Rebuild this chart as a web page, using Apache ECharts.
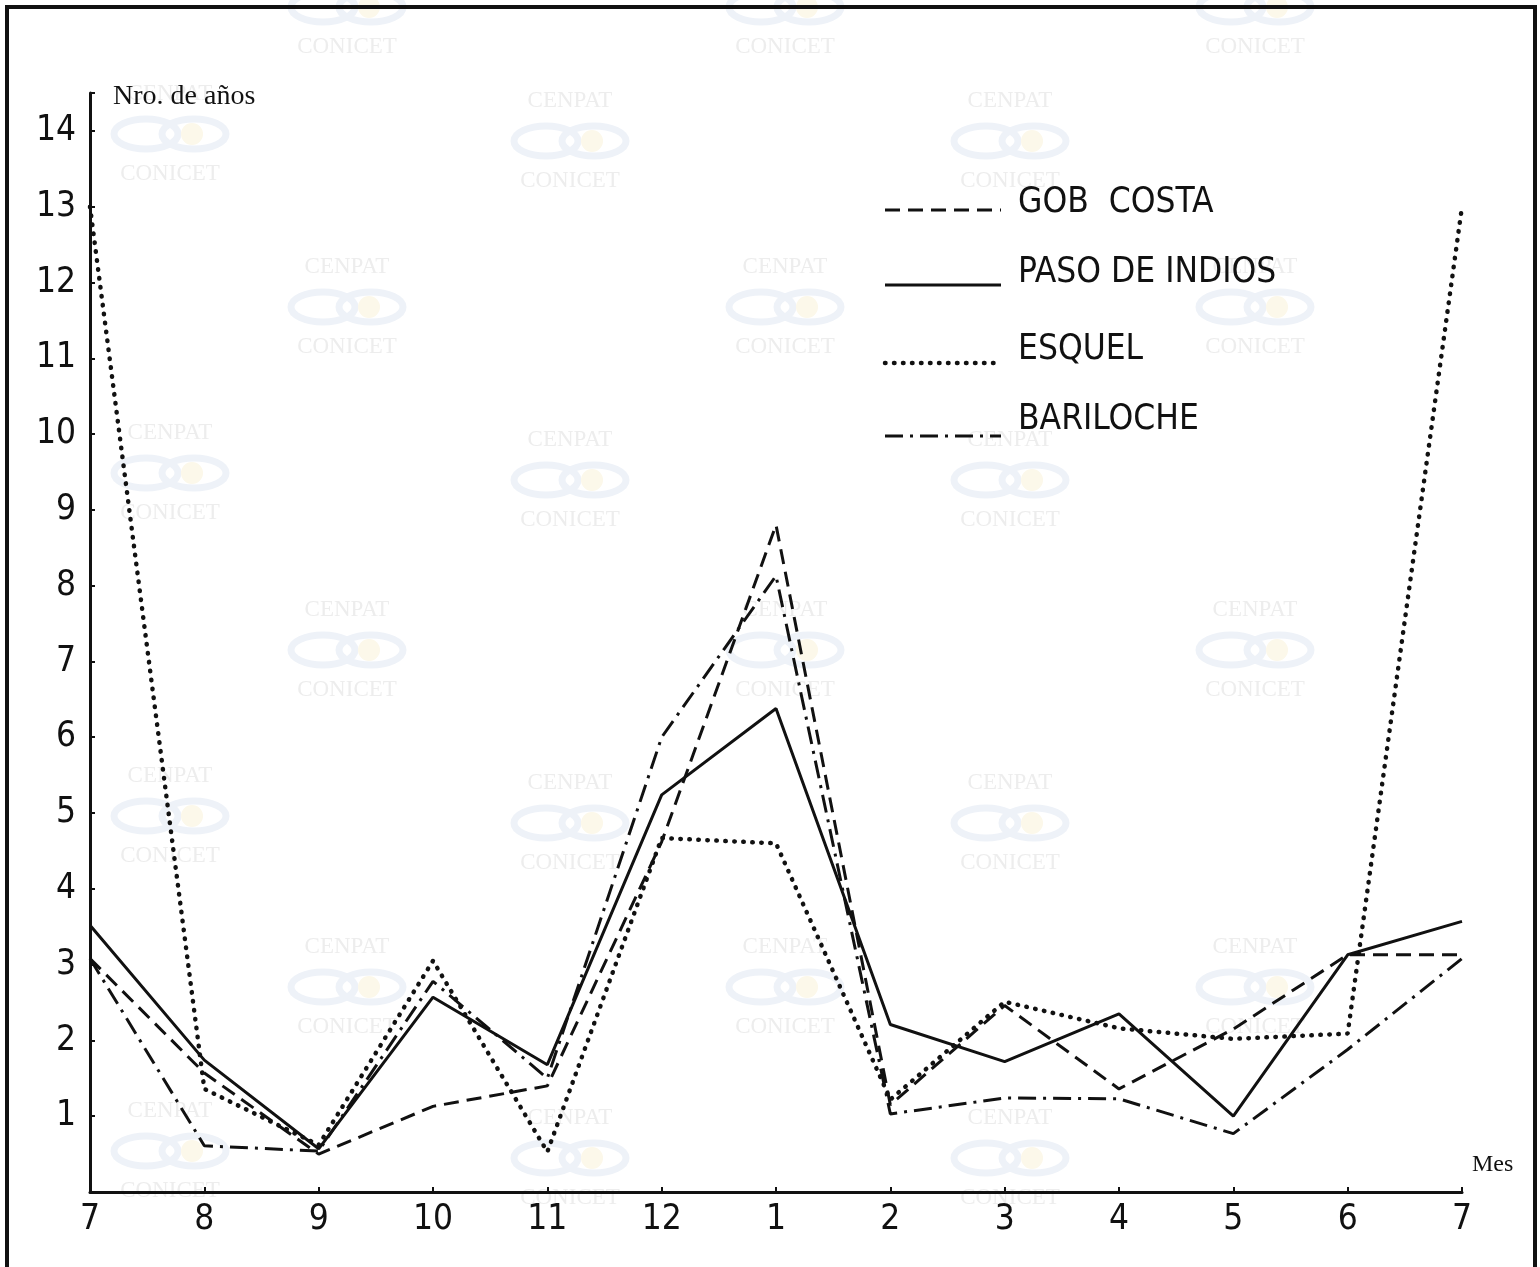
<!DOCTYPE html>
<html>
<head>
<meta charset="utf-8">
<script src="https://cdn.jsdelivr.net/npm/echarts@6/dist/echarts.min.js"></script>
<style>
html,body{margin:0;padding:0;background:#fff;}
#chart{width:1540px;height:1267px;}
</style>
</head>
<body>
<div id="chart"></div>
<script>
// ---- data ----
var months = ['7','8','9','10','11','12','1','2','3','4','5','6','7'];
var gobCosta     = [3.08, 1.57, 0.50, 1.13, 1.40, 4.62, 8.80, 1.15, 2.46, 1.36, 2.15, 3.13, 3.13];
var pasoDeIndios = [3.52, 1.74, 0.57, 2.57, 1.68, 5.24, 6.38, 2.21, 1.72, 2.35, 1.00, 3.13, 3.57];
var esquel       = [13.0, 1.36, 0.62, 3.05, 0.53, 4.67, 4.60, 1.22, 2.51, 2.16, 2.02, 2.09, 13.0];
var bariloche    = [3.08, 0.61, 0.54, 2.78, 1.50, 6.00, 8.13, 1.03, 1.24, 1.23, 0.77, 1.88, 3.08];
var seriesNames  = ['GOB  COSTA', 'PASO DE INDIOS', 'ESQUEL', 'BARILOCHE'];
var yTickLabels  = ['1','2','3','4','5','6','7','8','9','10','11','12','13','14'];
var yAxisName = 'Nro. de años';
var xAxisName = 'Mes';

var INK = '#111';
var SANS = "'DejaVu Sans Condensed', 'Liberation Sans Narrow', 'DejaVu Sans', sans-serif";
var SERIF = "'Liberation Serif', 'DejaVu Serif', serif";

var styles = [
  {type:[15, 8], width:3, cap:'butt'},
  {type:'solid', width:3, cap:'butt'},
  {type:[0.5, 8.5], width:4.5, cap:'round'},
  {type:[18, 7, 3, 7], width:3, cap:'butt'}
];
var datas = [gobCosta, pasoDeIndios, esquel, bariloche];

// ---- faint background watermark (decorative) ----
var g = [];
function addMark(cx, y) {
  g.push({type:'text', silent:true, z:0, style:{text:'CENPAT', x:cx, y:y, align:'center', verticalAlign:'middle',
    font:'23px ' + SERIF, fill:'#ededed'}});
  g.push({type:'ellipse', silent:true, z:0, shape:{cx:cx-24, cy:y+40, rx:32, ry:15},
    style:{fill:'none', stroke:'#eef2f8', lineWidth:7}});
  g.push({type:'ellipse', silent:true, z:0, shape:{cx:cx+24, cy:y+40, rx:32, ry:15},
    style:{fill:'none', stroke:'#eef2f8', lineWidth:7}});
  g.push({type:'circle', silent:true, z:0, shape:{cx:cx+22, cy:y+40, r:11},
    style:{fill:'#fcf8ea'}});
  g.push({type:'text', silent:true, z:0, style:{text:'CONICET', x:cx, y:y+80, align:'center', verticalAlign:'middle',
    font:'23px ' + SERIF, fill:'#ededed'}});
}
var colsA = [347, 785, 1255], colsB = [170, 570, 1010];
[-33, 267, 610, 947].forEach(function (y) { colsA.forEach(function (c) { addMark(c, y); }); });
[101, 440, 783, 1118].forEach(function (y) { colsB.forEach(function (c, i) { addMark(c, i === 0 ? y - 7 : y); }); });

// outer frame of the scanned figure
g.push({type:'rect', silent:true, z:1, shape:{x:7, y:7, width:1528, height:1300},
  style:{fill:'none', stroke:INK, lineWidth:4}});
// axis names
g.push({type:'text', silent:true, z:5, style:{text:yAxisName, x:113, y:97, align:'left', verticalAlign:'middle',
  font:'28px ' + SERIF, fill:INK}});
g.push({type:'text', silent:true, z:5, style:{text:xAxisName, x:1472, y:1165, align:'left', verticalAlign:'middle',
  font:'24px ' + SERIF, fill:INK}});

// legend (line sample sits at the text baseline, as in the original)
var legendTextY = [203, 273, 350, 420];
var legendLineY = [210, 285, 363, 436];
seriesNames.forEach(function (n, i) {
  var st = styles[i];
  g.push({type:'line', silent:true, z:5, shape:{x1:885, y1:legendLineY[i], x2:1001, y2:legendLineY[i]},
    style:{stroke:INK, lineWidth:st.width, lineDash: st.type === 'solid' ? null : st.type, lineCap:st.cap}});
  g.push({type:'text', silent:true, z:5, style:{text:n, x:1018, y:legendTextY[i], align:'left', verticalAlign:'middle',
    font:'35px ' + SANS, fill:INK}});
});

var series = datas.map(function (d, i) {
  return {
    name: seriesNames[i], type:'line', data:d, symbol:'none', showSymbol:false,
    smooth:false, animation:false, z:3, color:INK,
    lineStyle:{color:INK, width:styles[i].width, type:styles[i].type, cap:styles[i].cap}
  };
});

var chart = echarts.init(document.getElementById('chart'), null, {renderer:'canvas'});
chart.setOption({
  backgroundColor:'#fff',
  animation:false,
  graphic: g,
  grid:{left:90, right:78, top:93, bottom:75, containLabel:false},
  xAxis:{
    type:'category', data:months, boundaryGap:false,
    axisLine:{lineStyle:{color:INK, width:3}},
    axisTick:{show:true, inside:true, length:5, lineStyle:{color:INK, width:2}},
    axisLabel:{fontFamily:SANS, fontSize:35, color:INK, margin:10, interval:0},
    splitLine:{show:false}
  },
  yAxis:{
    type:'value', min:0, max:14.5, interval:1,
    axisLine:{show:true, lineStyle:{color:INK, width:3}},
    axisTick:{show:true, inside:true, length:5, lineStyle:{color:INK, width:2}},
    axisLabel:{fontFamily:SANS, fontSize:35, color:INK, margin:14,
      formatter:function (v) { var k = yTickLabels.indexOf(String(v)); return k >= 0 ? yTickLabels[k] : ''; }},
    splitLine:{show:false}
  },
  series: series
});
</script>
</body>
</html>
